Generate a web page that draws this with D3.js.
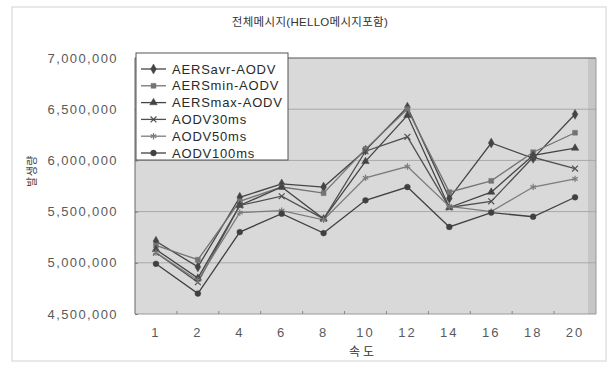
<!DOCTYPE html>
<html><head><meta charset="utf-8">
<script src="https://cdn.jsdelivr.net/npm/d3@7"></script>
<style>
  body { margin: 0; background: #fff; }
  svg { display: block; }
  text { font-family: "Liberation Sans", Arial, "Noto Sans CJK KR", sans-serif; }
</style>
</head><body>
<svg id="chart" width="611" height="366"></svg>
<script>
// Speed categories (x axis) and message counts per protocol
const categories = ["1", "2", "4", "6", "8", "10", "12", "14", "16", "18", "20"];
const seriesNames = ["AERSavr-AODV", "AERSmin-AODV", "AERSmax-AODV", "AODV30ms", "AODV50ms", "AODV100ms"];
const aersAvr  = [5210000, 4960000, 5640000, 5770000, 5740000, 6100000, 6520000, 5630000, 6170000, 6020000, 6450000];
const aersMin  = [5170000, 5030000, 5600000, 5740000, 5680000, 6110000, 6500000, 5690000, 5800000, 6080000, 6270000];
const aersMax  = [5130000, 4850000, 5560000, 5740000, 5430000, 5990000, 6440000, 5540000, 5690000, 6050000, 6120000];
const aodv30   = [5100000, 4810000, 5560000, 5650000, 5430000, 6090000, 6230000, 5540000, 5600000, 6030000, 5920000];
const aodv50   = [5100000, 4830000, 5490000, 5510000, 5420000, 5830000, 5940000, 5550000, 5500000, 5740000, 5820000];
const aodv100  = [4990000, 4700000, 5300000, 5480000, 5290000, 5610000, 5740000, 5350000, 5490000, 5450000, 5640000];
const yTicks = [4500000, 5000000, 5500000, 6000000, 6500000, 7000000];
const titleText = "전체메시지(HELLO메시지포함)";
const xTitle = "속도";
const yTitle = "발생량";

const seriesValues = [aersAvr, aersMin, aersMax, aodv30, aodv50, aodv100];
const symbolTypes = [
  d3.symbolDiamond, d3.symbolSquare, d3.symbolTriangle,
  d3.symbolX || d3.symbolCross, d3.symbolAsterisk || d3.symbolCross, d3.symbolCircle
];
const symbolSizes = [28, 24, 24, 24, 28, 26];
const strokeColors = ["#444", "#747474", "#444", "#505050", "#7c7c7c", "#404040"];
const series = seriesNames.map((name, i) => ({ name, values: seriesValues[i], i }));

const svg = d3.select("#chart");
const plot = { left: 135, right: 596, top: 58, bottom: 314 };

const x = d3.scaleBand().domain(categories).range([plot.left, plot.right]);
const cx = c => x(c) + x.bandwidth() / 2;
const y = d3.scaleLinear().domain([4500000, 7000000]).range([plot.bottom, plot.top]);

// outer frame
svg.append("rect").attr("x", 12).attr("y", 7).attr("width", 594).attr("height", 354)
  .attr("fill", "none").attr("stroke", "#d2d2d2").attr("stroke-width", 1);

// plot area
svg.append("rect").attr("x", plot.left).attr("y", plot.top)
  .attr("width", plot.right - plot.left).attr("height", plot.bottom - plot.top)
  .attr("fill", "#d9d9d9");
svg.append("rect").attr("x", plot.right - 8).attr("y", plot.top)
  .attr("width", 8).attr("height", plot.bottom - plot.top)
  .attr("fill", "#c6c6c6");

// horizontal gridlines
svg.append("g").selectAll("line").data(yTicks.filter(d => d > 4500000 && d < 7000000)).join("line")
  .attr("x1", plot.left).attr("x2", plot.right)
  .attr("y1", d => y(d)).attr("y2", d => y(d))
  .attr("stroke", "#a8a8a8").attr("stroke-width", 1);

// plot border: dark top/left, lighter bottom/right
svg.append("line").attr("x1", plot.left).attr("x2", plot.right).attr("y1", plot.top).attr("y2", plot.top)
  .attr("stroke", "#555").attr("stroke-width", 1.2);
svg.append("line").attr("x1", plot.left).attr("x2", plot.left).attr("y1", plot.top).attr("y2", plot.bottom)
  .attr("stroke", "#666").attr("stroke-width", 1);
svg.append("line").attr("x1", plot.left).attr("x2", plot.right).attr("y1", plot.bottom).attr("y2", plot.bottom)
  .attr("stroke", "#999").attr("stroke-width", 1);
svg.append("line").attr("x1", plot.right).attr("x2", plot.right).attr("y1", plot.top).attr("y2", plot.bottom)
  .attr("stroke", "#999").attr("stroke-width", 1);

// y axis
const yAxis = svg.append("g").attr("transform", `translate(${plot.left},0)`)
  .call(d3.axisLeft(y).tickValues(yTicks).tickFormat(d3.format(",")).tickSizeInner(-3).tickSizeOuter(0).tickPadding(17));
yAxis.select(".domain").remove();
yAxis.selectAll(".tick line").attr("stroke", "#777");
yAxis.selectAll("text").attr("fill", "#5a5a5a").style("font-size", "13px").style("letter-spacing", "1.4px");

// x axis
const xAxis = svg.append("g").attr("transform", `translate(0,${plot.bottom})`)
  .call(d3.axisBottom(x).tickSize(0).tickPadding(14));
xAxis.select(".domain").remove();
xAxis.selectAll("text").attr("fill", "#5a5a5a").style("font-size", "13px").style("letter-spacing", "2px");
// category boundary ticks
svg.append("g").selectAll("line").data(categories.slice(1)).join("line")
  .attr("x1", d => x(d)).attr("x2", d => x(d))
  .attr("y1", plot.bottom).attr("y2", plot.bottom - 3)
  .attr("stroke", "#888");

// lines and markers
const line = d3.line().x((d, k) => cx(categories[k])).y(d => y(d));
const g = svg.append("g");
series.forEach(s => {
  g.append("path").datum(s.values).attr("d", line)
    .attr("fill", "none").attr("stroke", strokeColors[s.i]).attr("stroke-width", 1.3);
});
series.forEach(s => {
  const stroked = s.i === 3 || s.i === 4;
  g.append("g").selectAll("path").data(s.values).join("path")
    .attr("transform", (d, k) => `translate(${cx(categories[k])},${y(d)})`)
    .attr("d", d3.symbol().type(symbolTypes[s.i]).size(symbolSizes[s.i]))
    .attr("fill", stroked ? "none" : strokeColors[s.i])
    .attr("stroke", strokeColors[s.i]).attr("stroke-width", stroked ? 1.2 : 0.5);
});

// legend
const lg = svg.append("g");
lg.append("rect").attr("x", 136).attr("y", 53).attr("width", 152).attr("height", 107)
  .attr("fill", "#fff").attr("stroke", "#555").attr("stroke-width", 1);
series.forEach(s => {
  const ly = 69 + s.i * 16.8;
  lg.append("line").attr("x1", 141).attr("x2", 166).attr("y1", ly).attr("y2", ly)
    .attr("stroke", strokeColors[s.i]).attr("stroke-width", 1.3);
  const stroked = s.i === 3 || s.i === 4;
  lg.append("path").attr("transform", `translate(153.5,${ly})`)
    .attr("d", d3.symbol().type(symbolTypes[s.i]).size(symbolSizes[s.i]))
    .attr("fill", stroked ? "none" : strokeColors[s.i])
    .attr("stroke", strokeColors[s.i]).attr("stroke-width", stroked ? 1.2 : 0.5);
  lg.append("text").attr("x", 172).attr("y", ly).attr("dy", "0.36em")
    .attr("fill", "#2a2a2a").style("font-size", "13px").style("letter-spacing", "0.8px")
    .text(s.name);
});

// titles
svg.append("text").attr("x", 310).attr("y", 22).attr("dy", "0.36em").attr("text-anchor", "middle")
  .attr("fill", "#333").style("font-size", "11.5px").style("letter-spacing", "0.3px").text(titleText);
svg.append("text").attr("x", 363).attr("y", 352).attr("dy", "0.36em").attr("text-anchor", "middle")
  .attr("fill", "#333").style("font-size", "12px").style("letter-spacing", "3px").text(xTitle);
svg.append("text").attr("transform", "translate(32,171) rotate(-90)").attr("dy", "0.36em")
  .attr("text-anchor", "middle").attr("fill", "#444").style("font-size", "11px").style("letter-spacing", "0.5px")
  .text(yTitle);
</script>
</body></html>
